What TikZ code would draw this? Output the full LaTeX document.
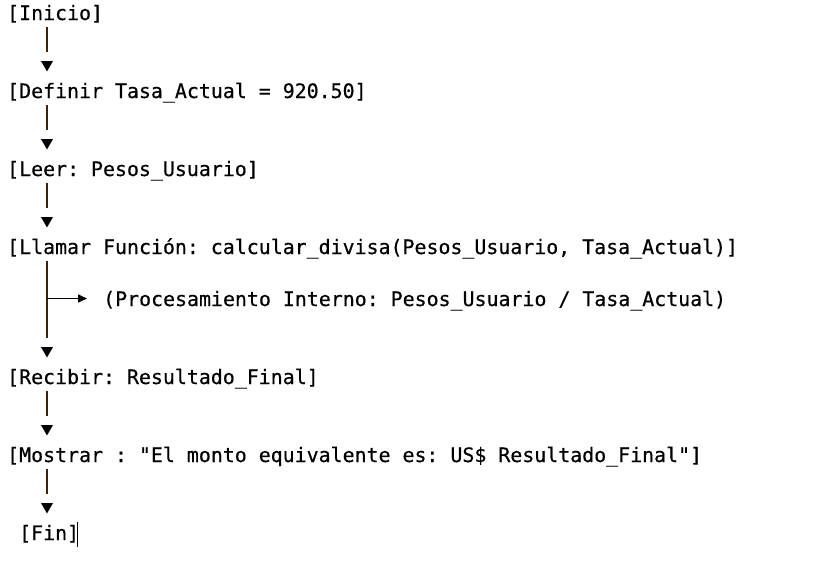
\documentclass[tikz,border=0pt]{standalone}
\usepackage{fontspec}
\setmonofont[FakeBold=0.5]{DejaVu Sans Mono}
\usetikzlibrary{arrows.meta,shapes.geometric}
\definecolor{linea}{RGB}{60,35,10}
\begin{document}
\begin{tikzpicture}[x=1pt,y=-1pt,
 paso/.style={anchor=base west,inner sep=0pt,font=\ttfamily\fontsize{19.9}{22}\selectfont},
 punta/.style={regular polygon,regular polygon sides=3,shape border rotate=180,fill=black,minimum size=13.9pt,inner sep=0pt,outer sep=0pt},
 enlace/.style={draw=linea,line width=1.6pt,shorten >=9pt}]
 \useasboundingbox (0,0) rectangle (828,570);
 \node[paso] (ini) at (7,20) {[Inicio]};
 \node[paso] (tasa) at (7,98) {[Definir Tasa\_Actual = 920.50]};
 \node[paso] (leer) at (7,176) {[Leer: Pesos\_Usuario]};
 \node[paso] (llam) at (7,254) {[Llamar Función: calcular\_divisa(Pesos\_Usuario, Tasa\_Actual)]};
 \node[paso] (proc) at (103,306) {(Procesamiento Interno: Pesos\_Usuario / Tasa\_Actual)};
 \node[paso] (rec) at (7,384) {[Recibir: Resultado\_Final]};
 \node[paso] (most) at (7,462) {[Mostrar : "El monto equivalente es: US\$ Resultado\_Final"]};
 \node[paso] (fin) at (19,540) {[Fin]};
 \node[punta] (p1) at (47,64.5) {};
 \node[punta] (p2) at (47,142.5) {};
 \node[punta] (p3) at (47,220.5) {};
 \node[punta] (p4) at (47,350.5) {};
 \node[punta] (p5) at (47,428.5) {};
 \node[punta] (p6) at (47,506.5) {};
 \coordinate (ramal) at (47,298.5);
 \draw[enlace] (p1 |- ini.base) ++(0,7) -- (p1.north);
 \draw[enlace] (p2 |- tasa.base) ++(0,7) -- (p2.north);
 \draw[enlace] (p3 |- leer.base) ++(0,7) -- (p3.north);
 \draw[enlace] (p4 |- llam.base) ++(0,7) -- (p4.north);
 \draw[enlace] (p5 |- rec.base) ++(0,7) -- (p5.north);
 \draw[enlace] (p6 |- most.base) ++(0,7) -- (p6.north);
 \draw[line width=1.6pt,shorten >=16pt,-{Triangle[length=9pt,width=8pt]}] (ramal) -- (ramal -| proc.west);
 \draw[thin] (77,522) -- (77,547);
\end{tikzpicture}
\end{document}
